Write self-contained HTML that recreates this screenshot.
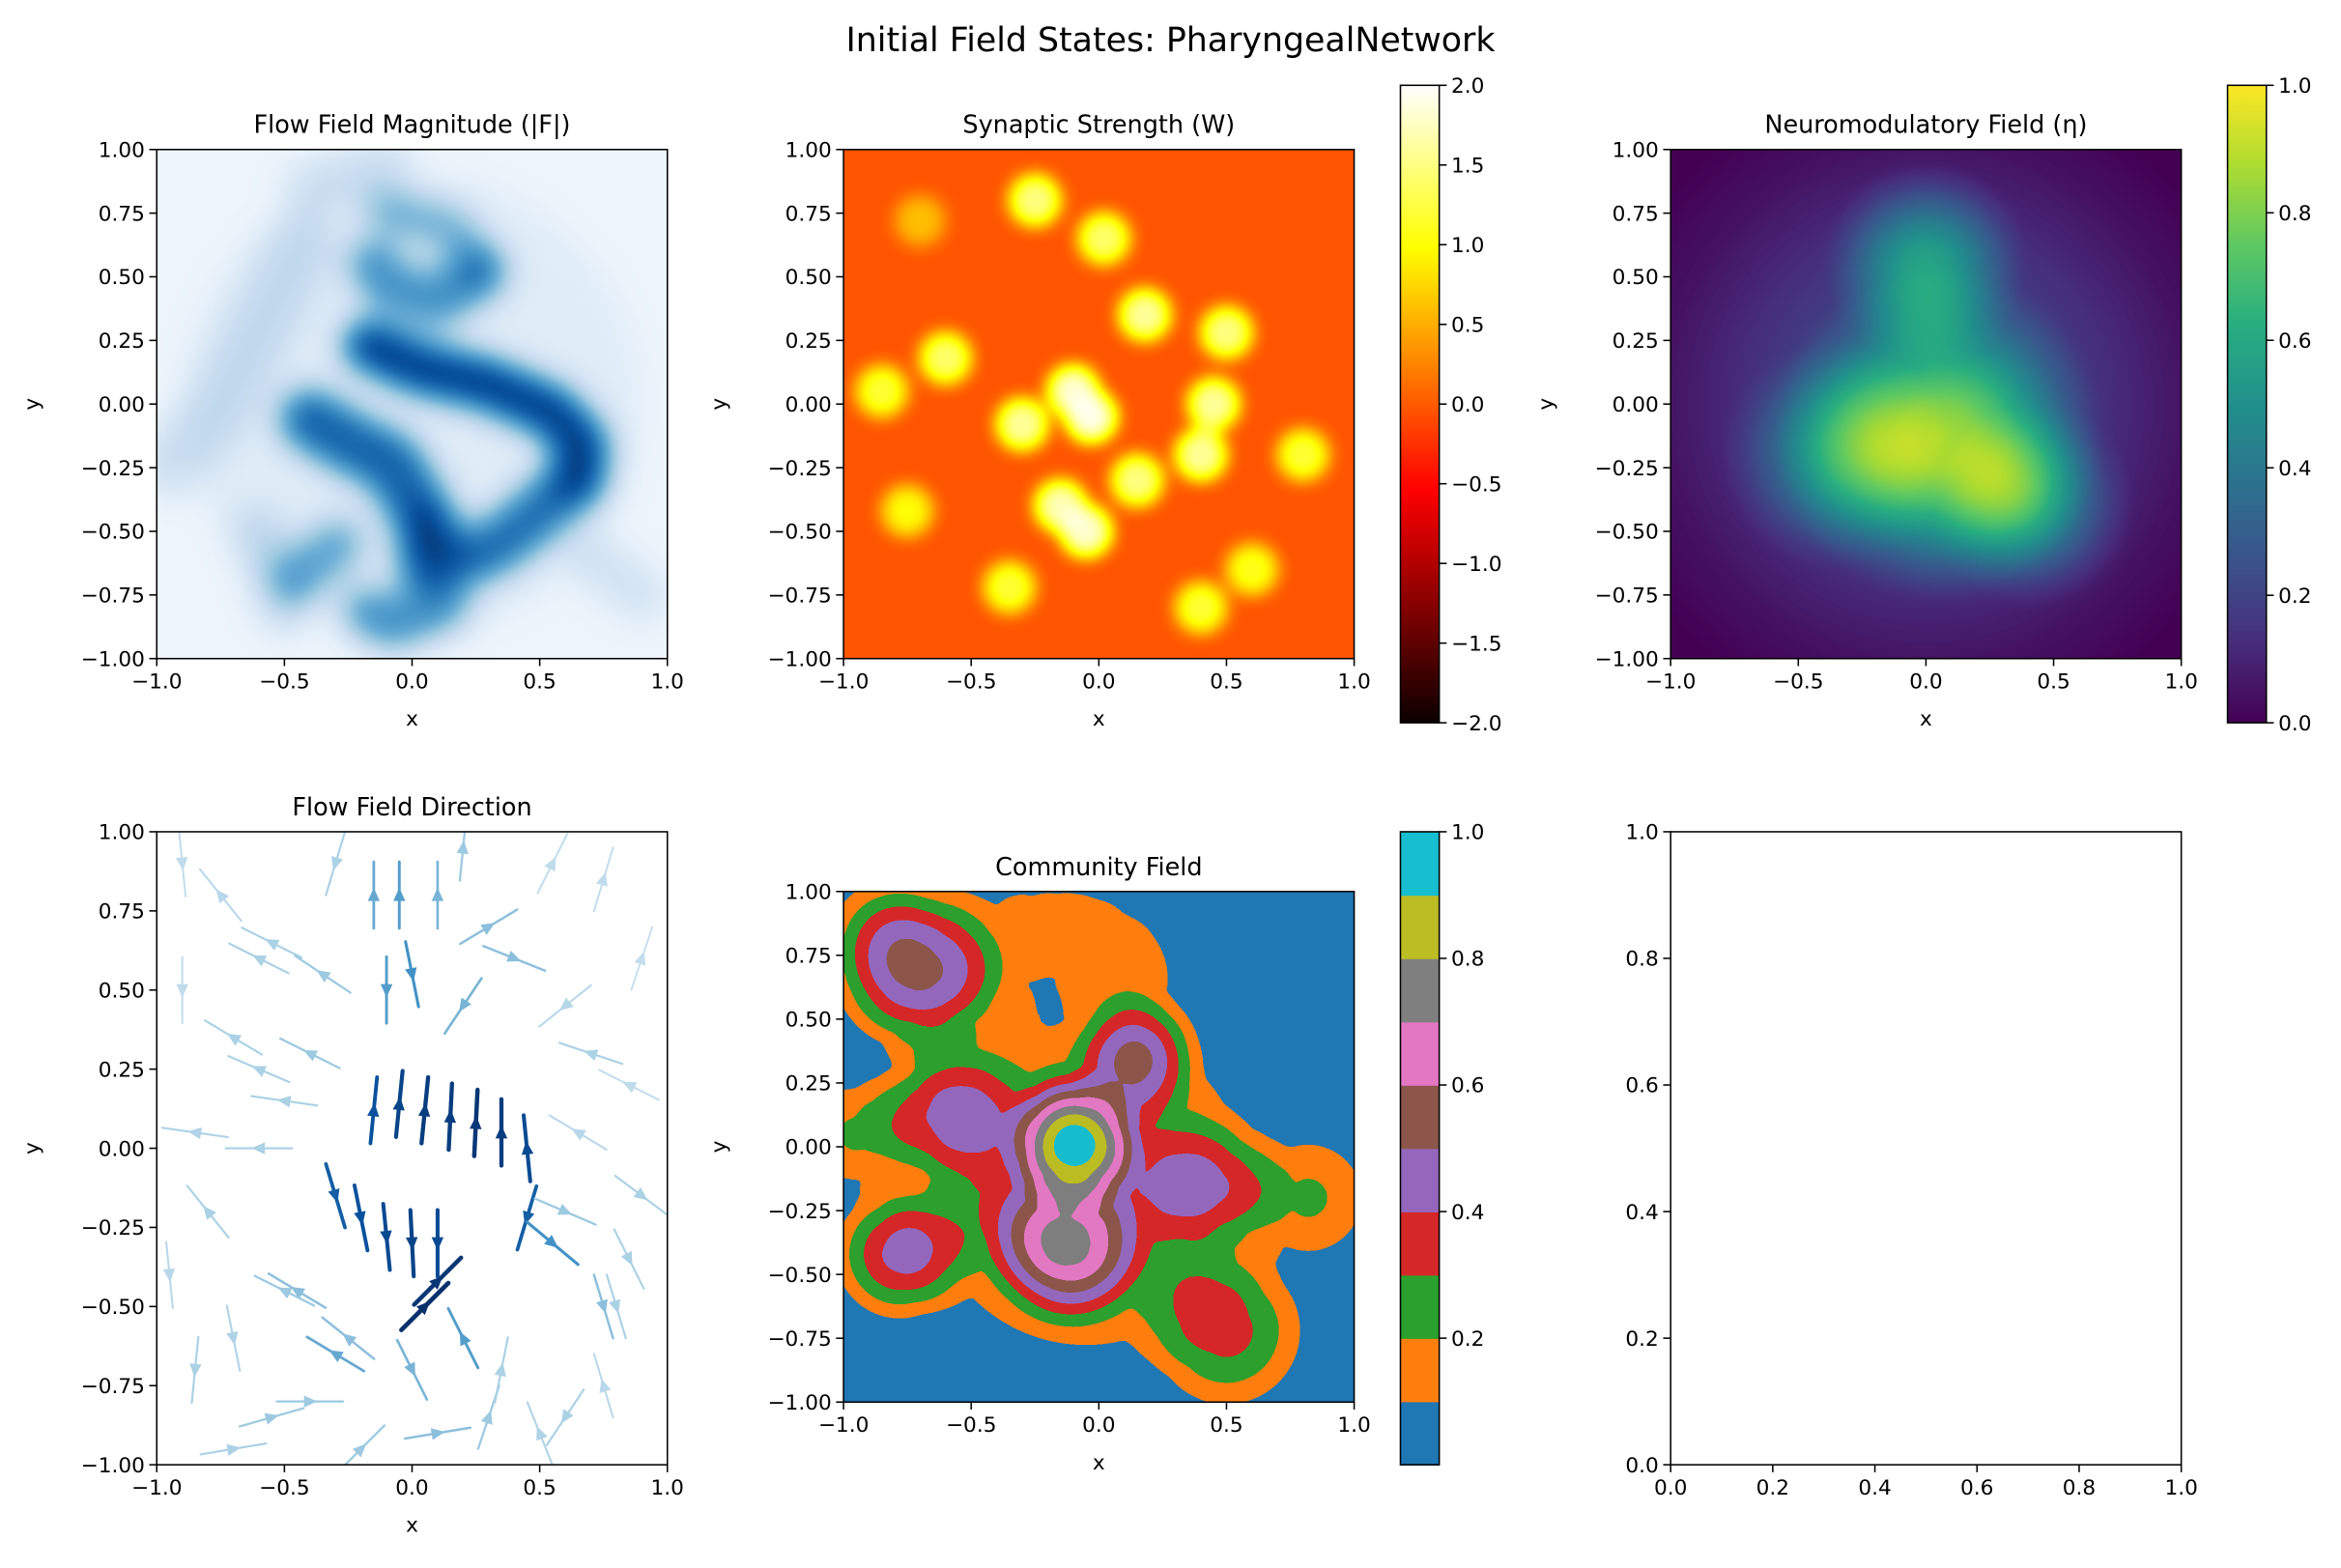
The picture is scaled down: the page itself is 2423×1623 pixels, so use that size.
<!DOCTYPE html>
<html><head><meta charset="utf-8"><style>
html,body{margin:0;padding:0;background:#fff}
svg{display:block}
text{font-family:"DejaVu Sans","Liberation Sans",sans-serif;fill:#000}
.add{mix-blend-mode:plus-lighter}
</style></head><body>
<svg id="fig" xmlns="http://www.w3.org/2000/svg" width="2423" height="1623" viewBox="0 0 1568 1050">
<defs>
<filter id="fBlues" filterUnits="userSpaceOnUse" x="105" y="100" width="342" height="341" color-interpolation-filters="sRGB">
<feGaussianBlur stdDeviation="11"/>
<feComponentTransfer>
<feFuncR type="table" tableValues="0.969 0.871 0.776 0.620 0.420 0.259 0.129 0.031 0.031"/>
<feFuncG type="table" tableValues="0.984 0.922 0.859 0.792 0.682 0.573 0.443 0.318 0.188"/>
<feFuncB type="table" tableValues="1 0.969 0.937 0.882 0.839 0.776 0.710 0.612 0.420"/>
</feComponentTransfer></filter>
<filter id="fHot" filterUnits="userSpaceOnUse" x="565" y="100" width="342" height="341" color-interpolation-filters="sRGB">
<feGaussianBlur stdDeviation="6"/>
<feComponentTransfer>
<feFuncR type="table" tableValues="1 1 1 1 1 1 1 1 1"/>
<feFuncG type="table" tableValues="0.33 0.5 0.68 0.846 1 1 1 1 1"/>
<feFuncB type="table" tableValues="0 0 0 0 0.016 0.26 0.51 0.75 1"/>
</feComponentTransfer></filter>
<filter id="fVir" filterUnits="userSpaceOnUse" x="1119" y="100" width="342" height="341" color-interpolation-filters="sRGB">
<feGaussianBlur stdDeviation="3"/>
<feComponentTransfer>
<feFuncR type="table" tableValues="0.267 0.278 0.231 0.173 0.129 0.157 0.369 0.678 0.992"/>
<feFuncG type="table" tableValues="0.004 0.176 0.322 0.447 0.569 0.682 0.788 0.863 0.906"/>
<feFuncB type="table" tableValues="0.329 0.482 0.545 0.557 0.549 0.502 0.384 0.188 0.145"/>
</feComponentTransfer></filter>
<filter id="fTab" filterUnits="userSpaceOnUse" x="565" y="597" width="342" height="342" color-interpolation-filters="sRGB">
<feGaussianBlur stdDeviation="1.5"/>
<feComponentTransfer>
<feFuncR type="discrete" tableValues="0.122 1 0.173 0.839 0.580 0.549 0.890 0.498 0.737 0.090"/>
<feFuncG type="discrete" tableValues="0.467 0.498 0.627 0.153 0.404 0.337 0.467 0.498 0.741 0.745"/>
<feFuncB type="discrete" tableValues="0.706 0.055 0.173 0.157 0.741 0.294 0.761 0.498 0.133 0.812"/>
</feComponentTransfer></filter>
<radialGradient id="gg">
<stop offset="0" stop-color="#fff" stop-opacity="1"/><stop offset="0.2" stop-color="#fff" stop-opacity="0.92"/>
<stop offset="0.4" stop-color="#fff" stop-opacity="0.72"/><stop offset="0.6" stop-color="#fff" stop-opacity="0.45"/>
<stop offset="0.8" stop-color="#fff" stop-opacity="0.18"/><stop offset="1" stop-color="#fff" stop-opacity="0"/></radialGradient>
<linearGradient id="hotBar" x1="0" y1="0" x2="0" y2="1">
<stop offset="0" stop-color="#ffffff"/><stop offset="0.254" stop-color="#ffff00"/><stop offset="0.635" stop-color="#ff0000"/><stop offset="1" stop-color="#0b0000"/></linearGradient>
<linearGradient id="virBar" x1="0" y1="1" x2="0" y2="0">
<stop offset="0" stop-color="#440154"/><stop offset="0.125" stop-color="#472d7b"/><stop offset="0.25" stop-color="#3b528b"/><stop offset="0.375" stop-color="#2c728e"/><stop offset="0.5" stop-color="#21918c"/><stop offset="0.625" stop-color="#28ae80"/><stop offset="0.75" stop-color="#5ec962"/><stop offset="0.875" stop-color="#addc30"/><stop offset="1" stop-color="#fde725"/></linearGradient>
<clipPath id="c1"><rect x="105" y="100" width="342" height="341"/></clipPath>
<clipPath id="c2"><rect x="565" y="100" width="342" height="341"/></clipPath>
<clipPath id="c3"><rect x="1119" y="100" width="342" height="341"/></clipPath>
<clipPath id="c4"><rect x="105" y="557" width="342" height="424"/></clipPath>
<clipPath id="c5"><rect x="565" y="597" width="342" height="342"/></clipPath>
</defs>
<text x="784" y="34" font-size="22.5" text-anchor="middle">Initial Field States: PharyngealNetwork</text>
</svg>
<script>
// ---------- data ----------
const magBands = [
 [[-0.10,0.76],[0.16,0.69],[0.27,0.52]],
 [[0.27,0.52],[0.10,0.40],[-0.10,0.47],[-0.15,0.55]],
 [[-0.17,0.23],[0.03,0.14],[0.29,0.08],[0.55,-0.03],[0.67,-0.16],[0.65,-0.29]],
 [[0.65,-0.29],[0.42,-0.49],[0.29,-0.58]],
 [[-0.40,-0.06],[-0.23,-0.16],[-0.08,-0.23],[0.07,-0.49],[0.06,-0.62]],
 [[-0.46,-0.69],[-0.29,-0.55]],
 [[-0.17,-0.82],[-0.08,-0.87],[0.12,-0.79],[0.16,-0.62]],
 [[-0.95,-0.23],[-0.76,-0.03],[-0.63,0.23],[-0.43,0.63]],
 [[-0.4,0.85],[-0.1,0.95]],
 [[-0.6,-0.5],[-0.5,-0.8]],
 [[0.7,-0.6],[0.9,-0.75]],
 [[0.05,-0.45],[0.06,-0.55]]
];
const magLevels = [0.45,0.6,0.97,0.75,0.8,0.5,0.6,0.18,0.18,0.2,0.15,1.0];
const magWidths = [0.17,0.2,0.2,0.22,0.24,0.2,0.2,0.25,0.2,0.2,0.2,0.14];
const synX = [-0.7,-0.25,0.02,0.18,0.5,-0.6,-0.85,-0.1,-0.03,-0.3,-0.15,-0.05,0.15,0.45,0.4,0.8,-0.75,-0.35,0.4,0.6];
const synY = [0.72,0.8,0.65,0.35,0.28,0.18,0.05,0.05,-0.05,-0.08,-0.4,-0.5,-0.3,0.0,-0.2,-0.2,-0.42,-0.72,-0.8,-0.65];
const synA = [0.3,0.75,0.7,0.8,0.75,0.7,0.6,0.9,0.95,0.8,0.85,0.9,0.75,0.8,0.8,0.6,0.5,0.6,0.6,0.55];
const neuX = [0.0,0.05,0.42,0.0,-0.35,0.2];
const neuY = [0.0,-0.12,-0.4,0.55,-0.2,-0.3];
const neuA = [0.25,0.55,0.32,0.42,0.3,0.12];
const neuR = [1.3,0.65,0.4,0.4,0.45,0.5];
const strX = [-0.15,-0.05,0.05,0.15,0.25,0.35,0.45,-0.3,-0.2,-0.1,0.0,0.1,0.45,0.05,0.1,-0.15,-0.05,0.1,-0.1,0.0,0.2,-0.7,-0.5,-0.8,-0.85,0.7,0.8,0.6,-0.4,-0.2,0.1,0.3,-0.6,0.3,0.55,0.75,-0.45,0.2,-0.3,
 -0.9,-0.75,-0.55,-0.35,-0.9,-0.6,-0.4,-0.85,-0.6,-0.95,-0.7,-0.5,-0.25,0.55,0.75,0.9,0.6,0.85,0.65,0.9,0.6,0.85,0.35,0.5,-0.3,0.2,0.0,-0.55,-0.7,0.75,0.4];
const strY = [0.12,0.14,0.12,0.1,0.08,0.05,0.0,-0.15,-0.22,-0.28,-0.3,-0.3,-0.22,-0.5,-0.42,0.8,0.8,0.8,0.5,0.55,0.45,0.35,0.15,-0.2,-0.7,0.3,-0.5,-0.85,-0.8,-0.95,-0.9,-0.85,0.6,0.7,-0.3,-0.5,-0.45,-0.6,-0.65,
 0.9,0.8,0.65,0.55,0.5,0.25,0.3,0.05,0.0,-0.4,-0.6,-0.45,-0.6,0.9,0.85,0.6,0.45,0.2,0.05,-0.15,-0.2,-0.35,-0.7,-0.9,0.9,0.95,-0.7,-0.85,-0.95,-0.75,0.6];
const strDX = [0.1,0.1,0.1,0.05,0.05,0.0,-0.1,0.3,0.2,0.1,0.05,0.0,-0.3,0.6,0.6,0.0,0.0,0.0,0.0,0.2,-0.4,-0.5,-0.7,-0.4,-0.1,-0.6,0.3,-0.4,0.6,0.5,0.6,0.2,-0.6,0.5,0.6,0.3,-0.5,-0.3,-0.5,
 0.1,-0.4,-0.6,-0.6,0.0,-0.7,-0.4,-0.7,-0.6,0.1,0.2,-0.6,-0.5,0.5,0.3,0.2,-0.5,-0.4,-0.5,0.4,0.7,0.3,0.2,-0.4,-0.3,0.1,0.5,0.7,0.6,-0.3,0.5];
const strDY = [1,1,1,1,1,1,1,-1,-1,-1,-1,-1,-1,0.6,0.6,1,1,1,-1,-1,-0.6,0.3,0.1,0.5,-1,0.2,-1,-0.6,0.0,0.5,0.1,0.6,0.3,0.3,-0.5,-1,0.3,0.6,0.3,
 -1,0.5,0.3,0.4,-1,0.3,0.2,0.1,0.0,-1,-1,0.3,0.4,1,1,0.6,-0.4,0.2,0.3,-0.3,-0.3,-0.6,1,1,-1,1,-1,0.2,0.1,1,-0.2];
const strMag = [0.75,0.85,0.9,0.9,0.95,0.9,0.8,0.7,0.75,0.8,0.85,0.8,0.7,1.0,0.95,0.4,0.45,0.35,0.45,0.5,0.35,0.2,0.2,0.2,0.2,0.2,0.2,0.2,0.25,0.25,0.3,0.25,0.2,0.3,0.5,0.3,0.3,0.45,0.4,
 0.12,0.15,0.2,0.25,0.12,0.2,0.25,0.18,0.2,0.15,0.18,0.25,0.3,0.12,0.12,0.1,0.15,0.12,0.15,0.2,0.25,0.2,0.2,0.18,0.2,0.25,0.35,0.25,0.2,0.15,0.3];
const comX = [-0.05,-0.1,-0.12,0.15,-0.6,0.45,-0.72,-0.78,0.5,0.82,-0.3,0.05,-0.95,-0.9,-0.35,0.15,-0.45];
const comY = [-0.15,0.02,-0.42,0.35,0.15,-0.15,0.7,-0.42,-0.72,-0.2,0.85,0.8,0.05,0.9,-0.3,0.55,0.55];
const comA = [0.44,0.6,0.4,0.34,0.36,0.25,0.55,0.44,0.35,0.22,0.13,0.13,0.22,0.1,0.09,0.1,0.08];
const comR = [0.82,0.3,0.33,0.28,0.36,0.32,0.4,0.33,0.4,0.35,0.4,0.36,0.3,0.3,0.3,0.35,0.3];
const ticksX = [-1,-0.5,0,0.5,1];
const ticksY = [-1,-0.75,-0.5,-0.25,0,0.25,0.5,0.75,1];
const ticksUnit = [0,0.2,0.4,0.6,0.8,1];
const hotTicks = [-2,-1.5,-1,-0.5,0,0.5,1,1.5,2];
const virTicks = [0,0.2,0.4,0.6,0.8,1];
const tabTicks = [0.2,0.4,0.6,0.8,1];
const tabColors = ["#1f77b4","#ff7f0e","#2ca02c","#d62728","#9467bd","#8c564b","#e377c2","#7f7f7f","#bcbd22","#17becf"];

// ---------- drawing ----------
const NS='http://www.w3.org/2000/svg';
const svg=document.getElementById('fig');
function mk(tag,attrs,parent){const e=document.createElementNS(NS,tag);for(const k in attrs)e.setAttribute(k,attrs[k]);(parent||svg).appendChild(e);return e;}
function fmt(v,d){const s=Math.abs(v).toFixed(d);return (v<-1e-9?'\u2212':'')+s;}
function axes(x0,y0,w,h,xmin,xmax,ymin,ymax){
  return {sx:v=>x0+(v-xmin)/(xmax-xmin)*w, sy:v=>y0+(ymax-v)/(ymax-ymin)*h, s:w/(xmax-xmin)};
}
const FS=14;
function frame(name,x0,y0,w,h,A,xt,xd,yt,yd,title,xl,yl){
  const g=mk('g',{});
  
  
  const r=mk('rect',{x:x0,y:y0,width:w,height:h,fill:'none',stroke:'#000','stroke-width':1},g);
  
  
  xt.forEach(v=>{const x=A.sx(v);
    mk('line',{x1:x,x2:x,y1:y0+h,y2:y0+h+5,stroke:'#000','stroke-width':1},g);
    const t=mk('text',{x:x,y:y0+h+20,'font-size':FS,'text-anchor':'middle'},g);t.textContent=fmt(v,xd);
    
    });
  yt.forEach(v=>{const y=A.sy(v);
    mk('line',{x1:x0-5,x2:x0,y1:y,y2:y,stroke:'#000','stroke-width':1},g);
    const t=mk('text',{x:x0-8,y:y+5,'font-size':FS,'text-anchor':'end'},g);t.textContent=fmt(v,yd);
    
    });
  if(title){const t=mk('text',{x:x0+w/2,y:y0-11,'font-size':16.5,'text-anchor':'middle'},g);t.textContent=title;
    
    }
  if(xl){const t=mk('text',{x:x0+w/2,y:y0+h+45,'font-size':FS,'text-anchor':'middle'},g);t.textContent='x';
    
    }
  if(yl){const yx=x0-79, yy=y0+h/2;const t=mk('text',{x:yx,y:yy,'font-size':FS,'text-anchor':'middle',transform:`rotate(-90 ${yx} ${yy})`},g);t.textContent='y';
    
    }
}
function colorbar(name,x0,y0,w,h,fill,ticks,vmin,vmax,dec){
  const g=mk('g',{});
  
  
  if(Array.isArray(fill)){const sh=h/fill.length;fill.forEach((c,i)=>{const r=mk('rect',{x:x0,y:y0+h-(i+1)*sh,width:w,height:sh+0.5,fill:c},g);
    
    });}
  else mk('rect',{x:x0,y:y0,width:w,height:h,fill:fill},g);
  mk('rect',{x:x0,y:y0,width:w,height:h,fill:'none',stroke:'#000','stroke-width':1},g);
  ticks.forEach(v=>{const y=y0+h-(v-vmin)/(vmax-vmin)*h;
    mk('line',{x1:x0+w,x2:x0+w+5,y1:y,y2:y,stroke:'#000'},g);
    const t=mk('text',{x:x0+w+8,y:y+5,'font-size':FS},g);t.textContent=fmt(v,dec);
    
    });
}

// Panel 1
{const A=axes(105,100,342,341,-1,1,-1,1);
 const outer=mk('g',{'clip-path':'url(#c1)'});
 
 
 const g=mk('g',{filter:'url(#fBlues)'},outer);
 mk('rect',{x:90,y:85,width:372,height:371,fill:'#0c0c0c'},g);
 mk('ellipse',{cx:A.sx(0),cy:A.sy(0),rx:0.9*A.s,ry:0.9*A.s,fill:'#fff','fill-opacity':0.07},g);
 magBands.forEach((pts,i)=>{
   const d=pts.map((p,j)=>(j?'L':'M')+A.sx(p[0])+' '+A.sy(p[1])).join(' ');
   const p=mk('path',{d:d,fill:'none',stroke:'#fff','stroke-opacity':magLevels[i],'stroke-width':magWidths[i]*A.s,'stroke-linecap':'round','stroke-linejoin':'round'},g);
   
   
 });
 frame('flow-magnitude',105,100,342,341,A,ticksX,1,ticksY,2,'Flow Field Magnitude (|F|)',true,true);
}
// Panel 2
{const A=axes(565,100,342,341,-1,1,-1,1);
 const outer=mk('g',{'clip-path':'url(#c2)'});
 
 
 const g=mk('g',{filter:'url(#fHot)'},outer);
 mk('rect',{x:550,y:85,width:372,height:371,fill:'#000'},g);
 synX.forEach((x,i)=>{
   const c=mk('circle',{cx:A.sx(x),cy:A.sy(synY[i]),r:0.1*A.s,fill:'#fff','fill-opacity':synA[i]},g);
   
   
 });
 frame('synaptic-strength',565,100,342,341,A,ticksX,1,ticksY,2,'Synaptic Strength (W)',true,true);
 colorbar('synaptic-colorbar',938,57,26,427,'url(#hotBar)',hotTicks,-2,2,1);
}
// Panel 3
{const A=axes(1119,100,342,341,-1,1,-1,1);
 const outer=mk('g',{'clip-path':'url(#c3)'});
 
 
 const g=mk('g',{filter:'url(#fVir)'},outer);
 mk('rect',{x:1090,y:70,width:400,height:400,fill:'#000'},g);
 neuX.forEach((x,i)=>{
   const c=mk('circle',{cx:A.sx(x),cy:A.sy(neuY[i]),r:neuR[i]*A.s,fill:'url(#gg)','fill-opacity':neuA[i],class:'add'},g);
   
   
 });
 frame('neuromodulatory',1119,100,342,341,A,ticksX,1,ticksY,2,'Neuromodulatory Field (\u03b7)',true,true);
 colorbar('neuromodulatory-colorbar',1492,57,26,427,'url(#virBar)',virTicks,0,1,1);
}
// Panel 4
{const A=axes(105,557,342,424,-1,1,-1,1);
 const outer=mk('g',{'clip-path':'url(#c4)'});
 
 
 const blues=t=>{const c=[[222,235,247],[158,202,225],[66,146,198],[8,81,156],[8,48,107]];const f=Math.min(0.999,Math.max(0,t))*(c.length-1);const i=Math.floor(f),u=f-i;const a=c[i],b=c[i+1];return `rgb(${a.map((v,k)=>Math.round(v+(b[k]-v)*u)).join(',')})`;};
 for(let i=0;i<strX.length;i++){
   const m=strMag[i], L=Math.hypot(strDX[i],strDY[i]);
   const ux=strDX[i]/L, uy=strDY[i]/L;
   const x=A.sx(strX[i]), y=A.sy(strY[i]);
   const half=0.13*A.s;
   const col=blues(m);
   const ln=mk('line',{x1:x-ux*half,y1:y+uy*half,x2:x+ux*half,y2:y-uy*half,stroke:col,'stroke-width':1+2*m,'stroke-linecap':'round'},outer);
   
   
   const ax=-uy, ay=-ux;
   const tipx=x+ux*5, tipy=y-uy*5, bx=x-ux*4, by=y+uy*4;
   const ar=mk('polygon',{points:`${tipx},${tipy} ${bx+ax*4},${by+ay*4} ${bx-ax*4},${by-ay*4}`,fill:col},outer);
   
   
 }
 frame('flow-direction',105,557,342,424,A,ticksX,1,ticksY,2,'Flow Field Direction',true,true);
}
// Panel 5
{const A=axes(565,597,342,342,-1,1,-1,1);
 const outer=mk('g',{'clip-path':'url(#c5)'});
 
 
 const g=mk('g',{filter:'url(#fTab)'},outer);
 mk('rect',{x:550,y:580,width:372,height:375,fill:'#000'},g);
 comX.forEach((x,i)=>{
   const c=mk('circle',{cx:A.sx(x),cy:A.sy(comY[i]),r:comR[i]*A.s,fill:'url(#gg)','fill-opacity':comA[i],class:'add'},g);
   
   
 });
 frame('community',565,597,342,342,A,ticksX,1,ticksY,2,'Community Field',true,true);
 colorbar('community-colorbar',938,557,26,424,tabColors,tabTicks,0,1,1);
}
// Panel 6
{const A=axes(1119,557,342,424,0,1,0,1);
 frame('empty',1119,557,342,424,A,ticksUnit,1,ticksUnit,1,'',false,false);
}
</script>
</body></html>
